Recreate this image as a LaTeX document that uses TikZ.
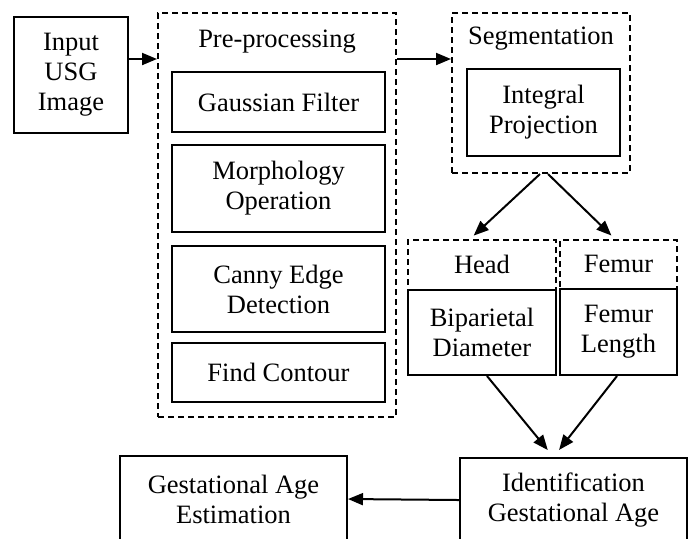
\documentclass[tikz,border=0pt]{standalone}
\usepackage{fontspec}
\setmainfont{Liberation Serif}
\usetikzlibrary{arrows.meta}
\begin{document}
\begin{tikzpicture}[x=0.5pt, y=-0.5pt,
    box/.style={draw=black, line width=1pt, inner sep=0pt, align=center, font=\fontsize{13.25}{15}\selectfont},
    group/.style={draw=black, line width=1pt, dash pattern=on 3pt off 2pt, inner sep=0pt},
    title/.style={inner sep=0pt, font=\fontsize{13.25}{15}\selectfont},
    arr/.style={-{Triangle[length=7.5pt,width=6pt]}, line width=1pt}]
    \clip (0,0) rectangle (689,538);

    % input and pre-processing
    \node[box, minimum width=57pt, minimum height=58pt] (input) at (71,75) {Input\\USG\\Image};
    \node[group, minimum width=119pt, minimum height=202pt] (pre) at (277,215) {};
    \node[title] (pretitle) at (277,42) {Pre-processing};
    \node[box, minimum width=106.5pt, minimum height=30pt] (gauss) at (278.5,102) {Gaussian Filter};
    \node[box, minimum width=106.5pt, minimum height=43.5pt] (morph) at (278.5,188.5) {Morphology\\Operation};
    \node[box, minimum width=106.5pt, minimum height=43pt] (canny) at (278.5,289) {Canny Edge\\Detection};
    \node[box, minimum width=106.5pt, minimum height=29.5pt] (contour) at (278.5,372.5) {Find Contour};

    % segmentation
    \node[group, minimum width=89pt, minimum height=80pt] (seg) at (541,93) {};
    \node[title] (segtitle) at (541,39) {Segmentation};
    \node[box, minimum width=76.5pt, minimum height=43.5pt] (integral) at (543.5,112.5) {Integral\\Projection};

    % head and femur
    \node[group, minimum width=74pt, minimum height=67.5pt] (head) at (482,307.5) {};
    \node[title] (headtitle) at (482,264) {Head};
    \node[group, minimum width=58.5pt, minimum height=67.5pt] (femur) at (618.5,307.5) {};
    \node[title] (femurtitle) at (618.5,264) {Femur};
    \node[box, fill=white, minimum width=74pt, minimum height=42.5pt] (bpd) at (482,332.5) {Biparietal\\Diameter};
    \node[box, fill=white, minimum width=58.5pt, minimum height=43pt] (fl) at (618.5,332) {Femur\\Length};

    % result
    \node[box, minimum width=113.5pt, minimum height=42pt] (ident) at (573.5,500) {Identification\\Gestational Age};
    \node[box, minimum width=113.5pt, minimum height=43pt] (est) at (233.5,499) {Gestational Age\\Estimation};

    \coordinate (flow) at (0,59);
    \draw[arr] (input.east |- flow) -- (pre.west |- flow);
    \draw[arr] (pre.east |- flow) -- (seg.west |- flow);
    \draw[arr, shorten >=2.5pt] ([xshift=-0.5pt]seg.south) -- ([xshift=-6pt]head.north);
    \draw[arr, shorten >=2.5pt] ([xshift=3.5pt]seg.south) -- ([xshift=-1.75pt]femur.north);
    \draw[arr, shorten >=4.5pt] ([xshift=2.5pt]bpd.south) -- ([xshift=-10pt]ident.north);
    \draw[arr, shorten >=4.5pt] ([xshift=-0.75pt]fl.south) -- ([xshift=-10pt]ident.north);
    \draw[arr] (ident.west) -- (est.east);
\end{tikzpicture}
\end{document}
